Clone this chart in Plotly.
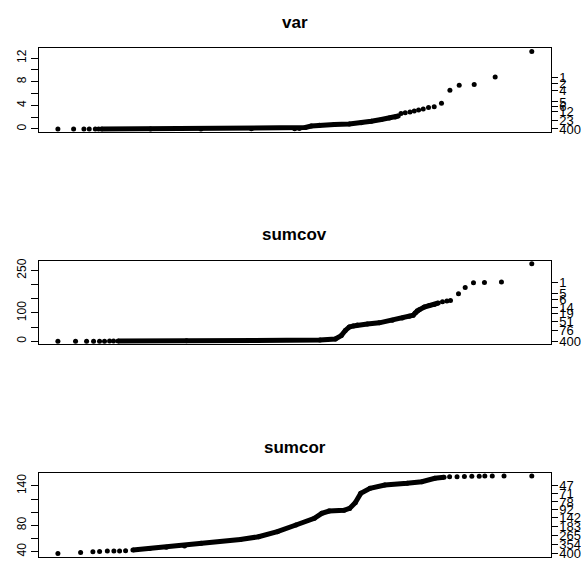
import plotly.graph_objects as go

# ---------------- data (x = theoretical quantile position, y = sorted value) ----------------
titles = ["var", "sumcov", "sumcor"]

var_tail_left_x = [-3.285, -3.067, -2.924, -2.85, -2.766, -2.72]
var_tail_left_y = [0.0, 0.0, 0.0, 0.0, 0.0, 0.0]
var_band_x = [-2.68, -2.0, -1.3, -0.6, 0.0, 0.065, 0.148, 0.231, 0.342, 0.55, 0.758, 0.924, 1.063, 1.202, 1.313, 1.396, 1.437]
var_band_y = [0.0, 0.01, 0.02, 0.03, 0.05, 0.08, 0.25, 0.5, 0.65, 0.75, 0.85, 1.05, 1.3, 1.6, 1.85, 2.05, 2.2]
var_tail_right_x = [1.475, 1.534, 1.60, 1.659, 1.719, 1.784, 1.857, 1.936, 2.037, 2.154, 2.283, 2.491, 2.782, 3.29]
var_tail_right_y = [2.63, 2.75, 2.86, 3.03, 3.2, 3.37, 3.64, 3.75, 4.37, 6.55, 7.39, 7.55, 8.78, 13.1]

cov_tail_left_x = [-3.285, -3.04, -2.887, -2.79, -2.707, -2.638, -2.568, -2.513]
cov_tail_left_y = [0, 0, 0.1, 0.2, 0.3, 0.3, 0.4, 0.5]
cov_band_x = [-2.45, -1.5, -0.5, 0.35, 0.564, 0.647, 0.703, 0.758, 0.814, 0.869, 1.008, 1.174, 1.354, 1.493, 1.59, 1.645, 1.673, 1.70, 1.728, 1.798, 1.867, 1.936, 1.992]
cov_band_y = [0.6, 1.5, 2.5, 4, 8, 20, 38, 50, 54, 57, 61, 65, 74, 82, 88, 92, 100, 108, 111, 121, 126.5, 130, 135]
cov_tail_right_x = [2.051, 2.112, 2.162, 2.273, 2.366, 2.481, 2.633, 2.869, 3.29]
cov_tail_right_y = [139.5, 142, 144, 167.6, 190, 206.5, 207.7, 209, 273.6]

cor_tail_left_x = [-3.285, -2.97, -2.80, -2.707, -2.60, -2.509, -2.43, -2.347]
cor_tail_left_y = [37.1, 38.6, 39.7, 40.1, 40.8, 40.8, 40.8, 41.2]
cor_band_x = [-2.245, -2.014, -1.782, -1.53, -1.30, -0.757, -0.503, -0.243, 0.014, 0.27, 0.373, 0.475, 0.68, 0.758, 0.836, 0.912, 1.041, 1.246, 1.554, 1.759, 1.939, 2.067]
cor_band_y = [42.2, 44.7, 46.5, 48.5, 52.5, 58.4, 62.5, 70.2, 80.4, 90.5, 98.2, 101.7, 102.7, 105.7, 114.4, 128.6, 136.2, 141.4, 143.9, 146.4, 151.5, 153]
cor_tail_right_x = [2.144, 2.247, 2.349, 2.452, 2.554, 2.632, 2.735, 2.898, 3.283]
cor_tail_right_y = [154, 154, 154.3, 154.5, 154.7, 155, 155, 155, 155]

# left axis ticks
var_lt_vals = [0, 2, 4, 6, 8, 10, 12]
var_lt_text = ["0", "", "4", "", "8", "", "12"]
cov_lt_vals = [0, 50, 100, 150, 200, 250]
cov_lt_text = ["0", "", "100", "", "", "250"]
cor_lt_vals = [40, 60, 80, 100, 120, 140]
cor_lt_text = ["40", "", "80", "", "", "140"]

# right axis (rank) ticks
var_rt_vals = [8.77, 7.65, 6.54, 4.58, 3.74, 2.96, 1.52, 0]
var_rt_text = ["1", "2", "4", "5", "6", "12", "23", "400"]
cov_rt_vals = [208.3, 167.4, 147.4, 120.9, 97.4, 70.5, 38, 0]
cov_rt_text = ["1", "5", "6", "14", "19", "51", "76", "400"]
cor_rt_vals = [140.5, 128, 115.5, 104, 92, 78, 64, 50.5, 37.1]
cor_rt_text = ["47", "71", "78", "92", "142", "183", "265", "354", "400"]

panels = [
    (var_tail_left_x, var_tail_left_y, var_band_x, var_band_y, var_tail_right_x, var_tail_right_y,
     var_lt_vals, var_lt_text, var_rt_vals, var_rt_text),
    (cov_tail_left_x, cov_tail_left_y, cov_band_x, cov_band_y, cov_tail_right_x, cov_tail_right_y,
     cov_lt_vals, cov_lt_text, cov_rt_vals, cov_rt_text),
    (cor_tail_left_x, cor_tail_left_y, cor_band_x, cor_band_y, cor_tail_right_x, cor_tail_right_y,
     cor_lt_vals, cor_lt_text, cor_rt_vals, cor_rt_text),
]

# ---------------- layout geometry ----------------
W, H = 581, 563
box_left, box_right = 39, 551.7
box_tops = [47, 261.5, 476]
box_h = 84.5
title_y = [21, 235.5, 450]

def ax_id(n, letter):
    return letter if n == 1 else f"{letter}{n}"

fig = go.Figure()
font = "Liberation Sans, Arial, Helvetica, sans-serif"
layout = dict(
    width=W, height=H, margin=dict(l=0, r=0, t=0, b=0),
    paper_bgcolor="white", plot_bgcolor="white", showlegend=False,
    font=dict(family=font, size=12, color="black"),
)
annotations = []

for i, (tlx, tly, bx, by, trx, try_, ltv, ltt, rtv, rtt) in enumerate(panels):
    xa = ax_id(i + 1, "x")
    ya_left = ax_id(2 * i + 1, "y")
    ya_right = ax_id(2 * i + 2, "y")
    ally = tly + by + try_
    allx = tlx + bx + trx
    ymin, ymax = min(ally), max(ally)
    yr = [ymin - 0.04 * (ymax - ymin), ymax + 0.04 * (ymax - ymin)]
    xmin, xmax = min(allx), max(allx)
    xr = [xmin - 0.04 * (xmax - xmin), xmax + 0.04 * (xmax - xmin)]

    mk = dict(color="black", size=5, line=dict(width=0))
    fig.add_trace(go.Scatter(x=tlx, y=tly, mode="markers", marker=mk, xaxis=xa, yaxis=ya_left,
                             hoverinfo="skip"))
    fig.add_trace(go.Scatter(x=bx, y=by, mode="lines+markers", marker=mk,
                             line=dict(color="black", width=5), xaxis=xa, yaxis=ya_left,
                             hoverinfo="skip"))
    fig.add_trace(go.Scatter(x=trx, y=try_, mode="markers", marker=mk, xaxis=xa, yaxis=ya_left,
                             hoverinfo="skip"))
    # carrier trace so the right-hand rank axis is drawn
    fig.add_trace(go.Scatter(x=trx, y=try_, mode="markers", marker=dict(size=1, opacity=0),
                             xaxis=xa, yaxis=ya_right, hoverinfo="skip"))

    top = box_tops[i]
    d1 = 1 - (top + box_h) / H
    d2 = 1 - top / H
    xkey = "xaxis" if i == 0 else f"xaxis{i+1}"
    ykeyL = "yaxis" if i == 0 else f"yaxis{2*i+1}"
    ykeyR = f"yaxis{2*i+2}"
    layout[xkey] = dict(domain=[box_left / W, box_right / W], range=xr, anchor=ya_left,
                        showline=True, mirror=True, linecolor="black", linewidth=1,
                        showgrid=False, zeroline=False, showticklabels=False, ticks="")
    layout[ykeyL] = dict(domain=[d1, d2], range=yr, anchor=xa,
                         showline=True, mirror=True, linecolor="black", linewidth=1,
                         showgrid=False, zeroline=False, ticks="outside", ticklen=7,
                         tickcolor="black", tickwidth=1, tickvals=ltv, ticktext=ltt, tickangle=-90,
                         tickfont=dict(size=12, color="black"))
    layout[ykeyR] = dict(range=yr, overlaying=ya_left, side="right", anchor=xa,
                         showline=False, showgrid=False, zeroline=False, ticks="outside", ticklen=6,
                         tickcolor="black", tickwidth=1, tickvals=rtv, ticktext=rtt,
                         ticklabeloverflow="allow", ticklabelstandoff=-1,
                         tickfont=dict(size=13, color="black"))
    annotations.append(dict(text=f"<b>{titles[i]}</b>", x=((box_left + box_right) / 2) / W,
                            y=1 - title_y[i] / H, xref="paper", yref="paper",
                            xanchor="center", yanchor="middle", showarrow=False,
                            font=dict(size=17, color="black", family=font)))

layout["annotations"] = annotations
fig.update_layout(**layout)
fig.write_html("out.html")
